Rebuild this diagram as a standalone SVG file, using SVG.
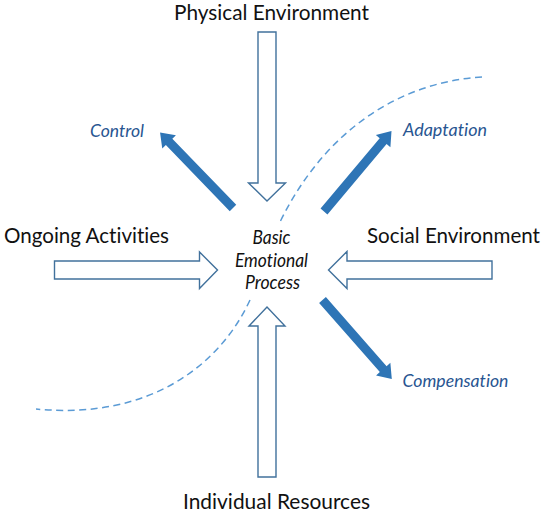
<svg xmlns="http://www.w3.org/2000/svg" xmlns:xlink="http://www.w3.org/1999/xlink" width="548" height="515" viewBox="0 0 548 515">
  <style>
    text { font-variant-ligatures: none; font-feature-settings: "liga" 0, "clig" 0, "dlig" 0; }
    .label { font-family: Lato, "Open Sans", "Liberation Sans", sans-serif; font-size: 21px; fill: #111111; }
    .core { font-family: Lato, "Open Sans", "Liberation Sans", sans-serif; font-size: 19px; font-style: italic; fill: #111111; text-anchor: middle; }
    .outcome { font-family: Lato, "Open Sans", "Liberation Sans", sans-serif; font-size: 18px; font-style: italic; fill: #285591; }
    .block { fill: #ffffff; stroke: #41719C; stroke-width: 1.4; stroke-linejoin: miter; }
    .thick { fill: #2E75B6; }
    .boundary { fill: none; stroke: #5B9BD5; stroke-width: 1.5; stroke-dasharray: 7 4.5; }
  </style>
  <defs>
    <!-- solid outgoing arrow, tail at origin pointing along +x -->
    <path id="thickArrow" d="M0,-4.5 L92,-4.5 L92,-9.5 L105,0 L92,9.5 L92,4.5 L0,4.5 Z"/>
  </defs>
  <rect width="548" height="515" fill="#ffffff"/>

  <!-- dashed boundary curve and the three outgoing arrows -->
  <g id="connectors">
    <path class="boundary" d="M482,77 C400,82 325,130 280,222"/>
    <path class="boundary" d="M250,300 C220,365 150,420 36,409"/>
    <use xlink:href="#thickArrow" class="thick" transform="translate(233,208) rotate(-134)"/>
    <use xlink:href="#thickArrow" class="thick" transform="translate(324,211.5) rotate(-50)"/>
    <use xlink:href="#thickArrow" class="thick" transform="translate(322.5,300) rotate(48.7)"/>
  </g>

  <g id="physical-environment">
    <text class="label" x="174" y="19.5" textLength="195" lengthAdjust="spacingAndGlyphs">Physical Environment</text>
    <path class="block" d="M258,32 L276,32 L276,183 L285.5,183 L267,201 L248.5,183 L258,183 Z"/>
  </g>

  <g id="ongoing-activities">
    <text class="label" x="4" y="243" textLength="165" lengthAdjust="spacingAndGlyphs">Ongoing Activities</text>
    <path class="block" d="M54.5,261 L199.5,261 L199.5,252 L217.5,270 L199.5,288.5 L199.5,279 L54.5,279 Z"/>
  </g>

  <g id="social-environment">
    <text class="label" x="367" y="243" textLength="173" lengthAdjust="spacingAndGlyphs">Social Environment</text>
    <path class="block" d="M492,261 L347,261 L347,251.5 L328.5,270 L347,288.5 L347,279 L492,279 Z"/>
  </g>

  <g id="individual-resources">
    <text class="label" x="183" y="509" textLength="187" lengthAdjust="spacingAndGlyphs">Individual Resources</text>
    <path class="block" d="M258,477 L276,477 L276,326 L285,326 L267,307 L249,326 L258,326 Z"/>
  </g>

  <g id="basic-emotional-process">
    <text class="core" x="271.5" y="243.5" textLength="38" lengthAdjust="spacingAndGlyphs">Basic</text>
    <text class="core" x="271.5" y="266.5" textLength="73" lengthAdjust="spacingAndGlyphs">Emotional</text>
    <text class="core" x="272.5" y="288.5" textLength="55" lengthAdjust="spacingAndGlyphs">Process</text>
  </g>

  <g id="control">
    <text class="outcome" x="90" y="137" textLength="54" lengthAdjust="spacingAndGlyphs">Control</text>
  </g>
  <g id="adaptation">
    <text class="outcome" x="403" y="136" textLength="84" lengthAdjust="spacingAndGlyphs">Adaptation</text>
  </g>
  <g id="compensation">
    <text class="outcome" x="402.5" y="387" textLength="106" lengthAdjust="spacingAndGlyphs">Compensation</text>
  </g>
</svg>
